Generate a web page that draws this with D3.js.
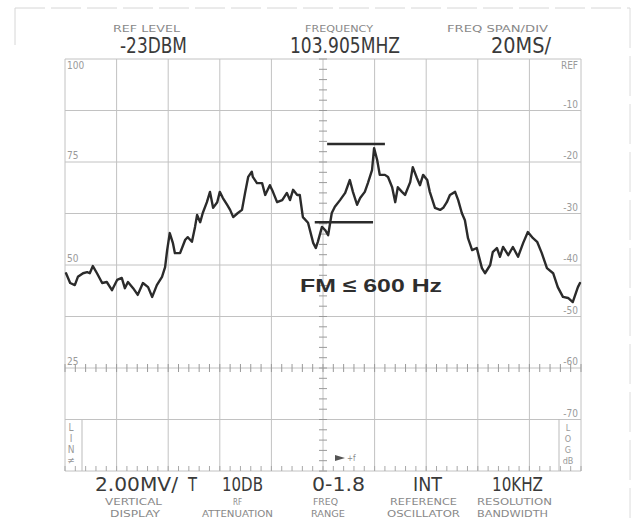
<!DOCTYPE html>
<html><head><meta charset="utf-8">
<script src="https://cdn.jsdelivr.net/npm/d3@7"></script>
<style>
html,body{margin:0;padding:0;background:#fff;}
svg{display:block;}
</style></head>
<body>
<svg id="c" width="637" height="518"></svg>
<script>
// ---- data ----
// horizontal position in graticule divisions (0..10), level in dB re REF
const traceDiv = [0.02,0.10,0.19,0.25,0.35,0.43,0.48,0.54,0.62,0.72,0.81,0.91,1.01,1.10,1.16,1.22,1.32,1.41,1.51,1.61,1.69,1.78,1.88,1.94,1.98,2.03,2.09,2.13,2.23,2.33,2.38,2.46,2.52,2.56,2.62,2.67,2.75,2.81,2.87,2.95,3.00,3.06,3.14,3.20,3.26,3.35,3.43,3.49,3.55,3.62,3.64,3.72,3.82,3.88,3.97,4.03,4.11,4.21,4.30,4.36,4.42,4.50,4.55,4.61,4.71,4.81,4.86,4.90,4.98,5.04,5.10,5.17,5.23,5.33,5.43,5.52,5.58,5.66,5.72,5.81,5.87,5.95,5.99,6.05,6.10,6.20,6.26,6.34,6.40,6.45,6.53,6.59,6.69,6.74,6.82,6.88,6.94,7.02,7.07,7.17,7.27,7.33,7.40,7.46,7.56,7.62,7.69,7.75,7.81,7.89,7.98,8.08,8.14,8.24,8.29,8.37,8.43,8.49,8.59,8.68,8.78,8.88,8.97,9.07,9.15,9.24,9.34,9.46,9.55,9.65,9.75,9.84,9.94,9.98];
const traceDb = [-41.6,-43.5,-43.9,-42.3,-41.6,-41.4,-41.6,-40.2,-41.6,-43.5,-43.3,-44.9,-42.9,-42.5,-44.5,-43.3,-44.5,-45.8,-43.5,-44.3,-46.2,-43.9,-42.3,-40.4,-37.1,-33.8,-35.7,-37.7,-37.7,-35.1,-34.6,-35.5,-32.6,-30.3,-31.7,-29.9,-27.8,-25.8,-28.9,-27.8,-25.8,-27.0,-28.3,-29.3,-30.7,-29.9,-29.3,-26.0,-22.9,-21.9,-22.9,-24.1,-24.1,-26.4,-24.5,-25.8,-27.8,-27.4,-26.0,-27.4,-25.4,-26.4,-26.4,-30.7,-31.8,-35.7,-36.7,-35.5,-32.6,-33.2,-34.2,-29.9,-28.7,-27.4,-26.0,-23.5,-25.8,-28.3,-27.0,-25.8,-24.1,-21.6,-17.3,-19.6,-22.5,-22.5,-22.9,-24.9,-27.8,-24.9,-25.8,-26.4,-23.9,-21.0,-23.1,-24.5,-22.5,-23.5,-25.8,-28.9,-29.3,-28.9,-27.8,-26.4,-25.8,-27.4,-29.9,-31.3,-34.8,-37.1,-36.7,-40.6,-41.6,-40.0,-37.5,-36.7,-38.4,-36.5,-38.1,-36.5,-38.4,-35.7,-33.6,-34.8,-35.5,-37.7,-40.6,-41.6,-44.3,-46.2,-46.4,-47.2,-44.3,-43.5];
// marker bars: [level dB, from div, to div]
const markerDb = [-16.5, -31.7];
const markerFrom = [5.08, 4.84];
const markerTo = [6.20, 5.97];
const leftTicks = [100, 75, 50, 25];
const rightTicks = [0, -10, -20, -30, -40, -50, -60, -70];
const rightTickText = ["REF", "-10", "-20", "-30", "-40", "-50", "-60", "-70"];
const headLabels = ["REF LEVEL", "FREQUENCY", "FREQ SPAN/DIV"];
const headValues = ["-23DBM", "103.905MHZ", "20MS/"];
const footValues = ["2.00MV/", "T", "10DB", "0-1.8", "INT", "10KHZ"];
const footLabels1 = ["VERTICAL", "RF", "FREQ", "REFERENCE", "RESOLUTION"];
const footLabels2 = ["DISPLAY", "ATTENUATION", "RANGE", "OSCILLATOR", "BANDWIDTH"];
const annotation = "FM \u2264 600 Hz";

// ---- layout ----
const L = 65, R = 581, T = 59, B = 471;
const x = d3.scaleLinear().domain([0, 10]).range([L, R]);
const y = d3.scaleLinear().domain([-80, 0]).range([B, T]);
const yLeft = d3.scaleLinear().domain([0, 100]).range([B, T]);

const svg = d3.select("#c");
const narrow = "'Liberation Sans Narrow','DejaVu Sans Condensed','Roboto Condensed',sans-serif";
const gridCol = "#c2c2c2";

// outer frame of the photo
svg.append("line").attr("x1", 15).attr("x2", 630).attr("y1", 8).attr("y2", 8)
  .attr("stroke", "#d6d6d6").attr("stroke-dasharray", "30 6");
svg.append("line").attr("x1", 15).attr("x2", 15).attr("y1", 8).attr("y2", 45)
  .attr("stroke", "#d6d6d6");
svg.append("line").attr("x1", 630).attr("x2", 630).attr("y1", 8).attr("y2", 518)
  .attr("stroke", "#dcdcdc").attr("stroke-dasharray", "40 8");

// graticule
const g = svg.append("g");
g.selectAll("line.v").data(d3.range(0, 11)).join("line")
  .attr("x1", d => x(d)).attr("x2", d => x(d)).attr("y1", T).attr("y2", B)
  .attr("stroke", gridCol).attr("stroke-width", 1);
g.selectAll("line.h").data(d3.range(-80, 1, 10)).join("line").attr("class", "h")
  .attr("x1", L).attr("x2", R).attr("y1", d => y(d)).attr("y2", d => y(d))
  .attr("stroke", gridCol).attr("stroke-width", 1);

// minor ticks: centre vertical line
const minorY = d3.range(-80, 0.01, 2);
g.selectAll("line.cy").data(minorY).join("line").attr("class", "cy")
  .attr("x1", x(5) - 4).attr("x2", x(5) + 4).attr("y1", d => y(d)).attr("y2", d => y(d))
  .attr("stroke", "#9a9a9a");
// minor ticks on -60 line and bottom border
const minorX = d3.range(0, 10.01, 0.2);
g.selectAll("line.cx").data(minorX).join("line").attr("class", "cx")
  .attr("x1", d => x(d)).attr("x2", d => x(d)).attr("y1", y(-60) - 4).attr("y2", y(-60) + 4)
  .attr("stroke", "#9a9a9a");
g.selectAll("line.bx").data(minorX).join("line").attr("class", "bx")
  .attr("x1", d => x(d)).attr("x2", d => x(d)).attr("y1", B - 5).attr("y2", B)
  .attr("stroke", "#a8a8a8");

// LIN / LOG boxes
svg.append("line").attr("x1", 82).attr("x2", 82).attr("y1", 420).attr("y2", B).attr("stroke", "#bbb");
svg.append("line").attr("x1", 559).attr("x2", 559).attr("y1", 419).attr("y2", B).attr("stroke", "#bbb");
["L", "I", "N", "\u2260"].forEach((c, i) => {
  svg.append("text").attr("x", 71).attr("y", 431 + i * 11).attr("text-anchor", "middle")
    .attr("font-family", narrow).attr("font-size", 10).attr("fill", "#999").text(c);
});
["L", "O", "G", "dB"].forEach((c, i) => {
  svg.append("text").attr("x", 568).attr("y", 431 + i * 11).attr("text-anchor", "middle")
    .attr("font-family", narrow).attr("font-size", 9).attr("fill", "#999").text(c);
});
// +f arrow
svg.append("path").attr("d", `M${x(5) + 12},${455} L${x(5) + 22},${458} L${x(5) + 12},${461} Z`).attr("fill", "#555");
svg.append("text").attr("x", x(5) + 24).attr("y", 461).attr("font-family", narrow)
  .attr("font-size", 8).attr("fill", "#888").text("+f");

// axis labels
svg.selectAll("text.lt").data(leftTicks).join("text").attr("class", "lt")
  .attr("x", L + 2).attr("y", d => d === 100 ? T + 10 : yLeft(d) - 3)
  .attr("font-family", narrow).attr("font-size", 10).attr("fill", "#9a9a9a").text(d => d);
svg.selectAll("text.rt").data(rightTicks).join("text").attr("class", "rt")
  .attr("x", R - 3).attr("y", d => d === 0 ? T + 10 : y(d) - 3).attr("text-anchor", "end")
  .attr("font-family", narrow).attr("font-size", 10).attr("fill", "#9a9a9a")
  .text((d, i) => rightTickText[i]);

// header
const headLX = [113, 305, 447], headLW = [67, 68, 101];
const headVX = [120, 290, 491], headVW = [67, 110, 60];
headLabels.forEach((t, i) => {
  svg.append("text").attr("x", headLX[i]).attr("y", 32).attr("font-family", narrow)
    .attr("font-size", 9).attr("fill", "#888").attr("textLength", headLW[i])
    .attr("lengthAdjust", "spacingAndGlyphs").text(t);
});
headValues.forEach((t, i) => {
  svg.append("text").attr("x", headVX[i]).attr("y", 53).attr("font-family", narrow)
    .attr("font-size", 21).attr("fill", "#3a3a3a").attr("textLength", headVW[i])
    .attr("lengthAdjust", "spacingAndGlyphs").text(t);
});

// footer
const footVX = [95, 188, 222, 312, 413, 492], footVW = [83, 9, 41, 53, 29, 51];
footValues.forEach((t, i) => {
  svg.append("text").attr("x", footVX[i]).attr("y", 491).attr("font-family", narrow)
    .attr("font-size", 20).attr("fill", "#3a3a3a").attr("textLength", footVW[i])
    .attr("lengthAdjust", "spacingAndGlyphs").text(t);
});
const f1X = [105, 233, 313, 390, 477], f1W = [57, 9, 25, 67, 75];
const f2X = [110, 202, 311, 387, 477], f2W = [50, 71, 34, 73, 71];
footLabels1.forEach((t, i) => {
  svg.append("text").attr("x", f1X[i]).attr("y", 505).attr("font-family", narrow)
    .attr("font-size", 9).attr("fill", "#888").attr("textLength", f1W[i])
    .attr("lengthAdjust", "spacingAndGlyphs").text(t);
});
footLabels2.forEach((t, i) => {
  svg.append("text").attr("x", f2X[i]).attr("y", 517).attr("font-family", narrow)
    .attr("font-size", 9).attr("fill", "#888").attr("textLength", f2W[i])
    .attr("lengthAdjust", "spacingAndGlyphs").text(t);
});

// trace
const pts = traceDiv.map((d, i) => [d, traceDb[i]]);
svg.append("path").datum(pts)
  .attr("d", d3.line().x(d => x(d[0])).y(d => y(d[1])))
  .attr("fill", "none").attr("stroke", "#2b2b2b").attr("stroke-width", 2.4)
  .attr("stroke-linejoin", "round").attr("stroke-linecap", "round");

// marker bars
svg.selectAll("line.mk").data(markerDb).join("line").attr("class", "mk")
  .attr("x1", (d, i) => x(markerFrom[i])).attr("x2", (d, i) => x(markerTo[i]))
  .attr("y1", d => y(d)).attr("y2", d => y(d))
  .attr("stroke", "#2b2b2b").attr("stroke-width", 2.6);

// annotation
svg.append("text").attr("x", 300).attr("y", 292)
  .attr("font-family", "'Liberation Sans',Arial,sans-serif").attr("font-weight", "bold")
  .attr("font-size", 19).attr("fill", "#2e2e2e").attr("textLength", 142)
  .attr("lengthAdjust", "spacingAndGlyphs").text(annotation);
</script>
</body></html>
